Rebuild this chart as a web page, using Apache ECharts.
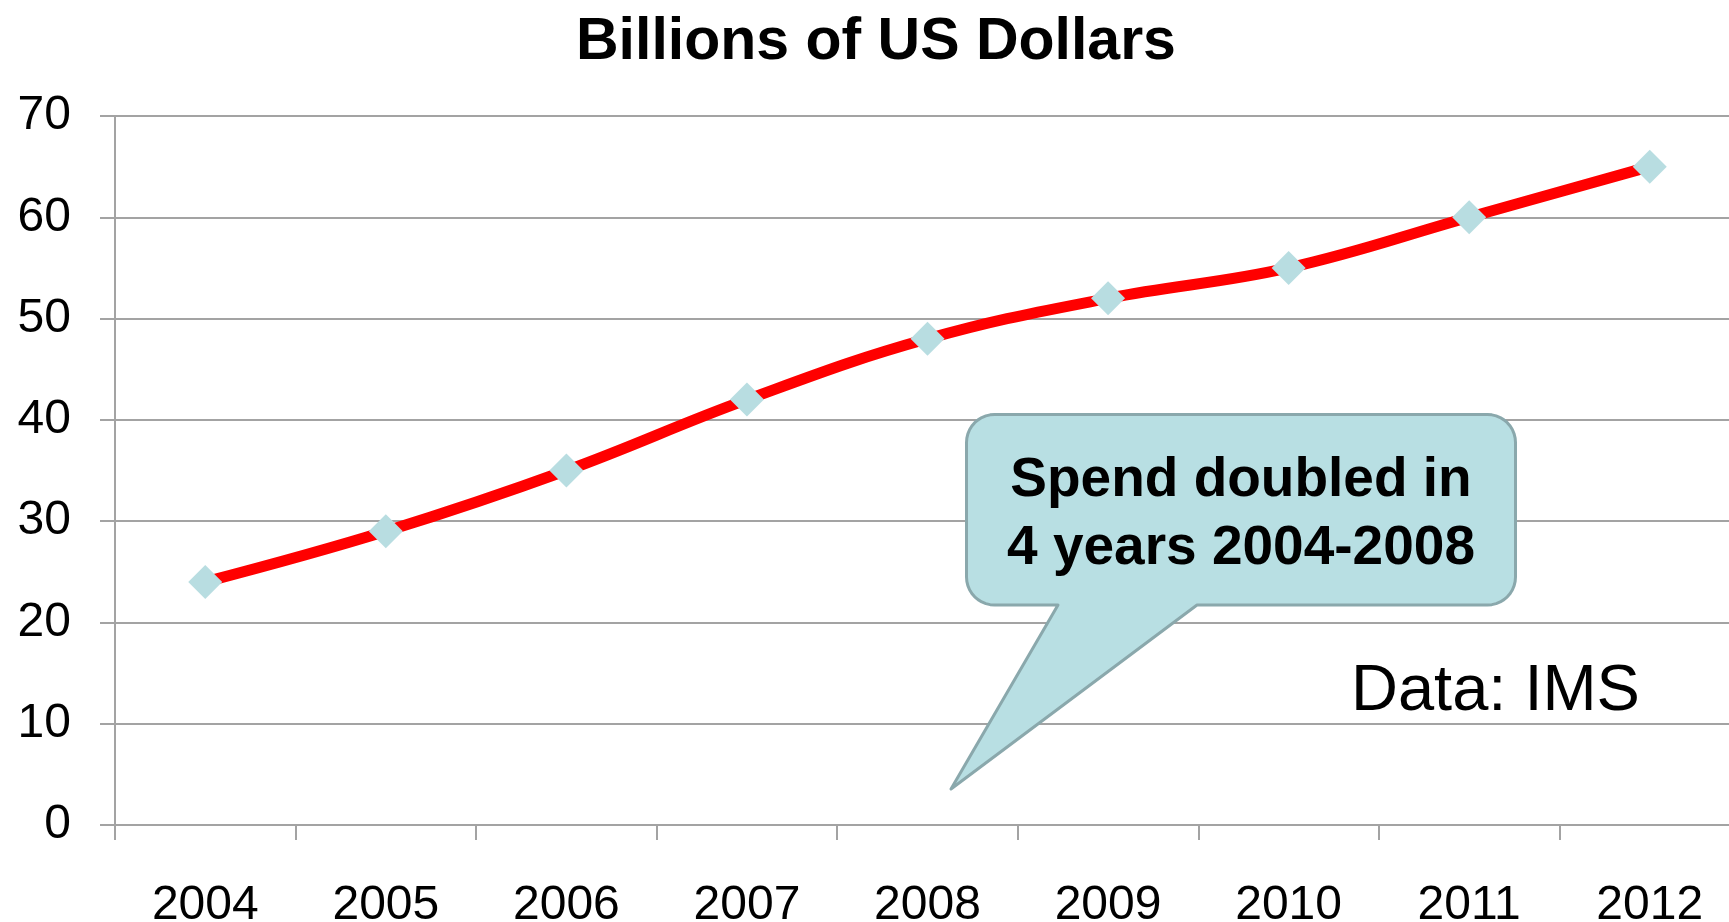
<!DOCTYPE html>
<html>
<head>
<meta charset="utf-8">
<title>Billions of US Dollars</title>
<script src="https://cdn.jsdelivr.net/npm/echarts@6/dist/echarts.min.js"></script>
<style>
  html, body { margin: 0; padding: 0; background: #ffffff; }
  #chart { width: 1729px; height: 922px; }
</style>
</head>
<body>
<div id="chart"></div>
<script>
// Yearly spend, billions of US dollars
const years = ['2004', '2005', '2006', '2007', '2008', '2009', '2010', '2011', '2012'];
const spend = [24, 29, 35, 42, 48, 52, 55, 60, 65];
const yTicks = [0, 10, 20, 30, 40, 50, 60, 70];

const titleText = 'Billions of US Dollars';
const calloutLines = ['Spend doubled in', '4 years 2004-2008'];
const sourceText = 'Data: IMS';

const FONT = '"Liberation Sans", Arial, Helvetica, sans-serif';
const GRID_GREY = '#a3a3a3';

// Outline of a rounded speech bubble whose tail leaves the bottom edge
function bubbleOutline(left, top, right, bottom, r, tailL, tailR, tip) {
  const pts = [];
  function arc(cx, cy, a0, a1) {
    const n = 10;
    for (let i = 0; i <= n; i++) {
      const a = a0 + (a1 - a0) * i / n;
      pts.push([cx + r * Math.cos(a), cy + r * Math.sin(a)]);
    }
  }
  arc(left + r, top + r, Math.PI, Math.PI * 1.5);        // top-left
  arc(right - r, top + r, Math.PI * 1.5, Math.PI * 2);   // top-right
  arc(right - r, bottom - r, 0, Math.PI * 0.5);          // bottom-right
  pts.push([tailR, bottom], tip, [tailL, bottom]);
  arc(left + r, bottom - r, Math.PI * 0.5, Math.PI);     // bottom-left
  return pts;
}

const chart = echarts.init(document.getElementById('chart'), null, { renderer: 'canvas' });

chart.setOption({
  backgroundColor: '#ffffff',
  animation: false,
  title: {
    text: titleText,
    left: 576,
    top: 13,
    padding: 0,
    textStyle: { fontFamily: FONT, fontSize: 59, fontWeight: 'bold', color: '#000000' }
  },
  // the plot runs slightly past the right edge of the canvas
  grid: { left: 115, top: 116, width: 1625, height: 709, containLabel: false, outerBoundsMode: 'none' },
  xAxis: {
    type: 'category',
    data: years,
    boundaryGap: true,
    axisLine: { show: true, lineStyle: { color: GRID_GREY, width: 2 } },
    axisTick: { show: true, length: 15, interval: 0, lineStyle: { color: GRID_GREY, width: 2 } },
    axisLabel: { interval: 0, margin: 57, fontFamily: FONT, fontSize: 48, color: '#000000' },
    splitLine: { show: false }
  },
  yAxis: {
    type: 'value',
    min: yTicks[0],
    max: yTicks[yTicks.length - 1],
    interval: yTicks[1] - yTicks[0],
    axisLine: { show: true, lineStyle: { color: GRID_GREY, width: 2 } },
    axisTick: { show: true, length: 15, lineStyle: { color: GRID_GREY, width: 2 } },
    axisLabel: { margin: 44, padding: [8, 0, 0, 0], fontFamily: FONT, fontSize: 48, color: '#000000' },
    splitLine: { show: true, lineStyle: { color: GRID_GREY, width: 2 } }
  },
  series: [{
    type: 'line',
    data: spend,
    smooth: 0.4,
    showAllSymbol: true,
    symbol: 'diamond',
    symbolSize: 34,
    lineStyle: { color: '#ff0000', width: 11 },
    itemStyle: { color: '#b8dde1', borderWidth: 0 },
    z: 3
  }],
  graphic: [
    {
      type: 'polygon',
      z: 10,
      shape: { points: bubbleOutline(966.5, 414.5, 1515.5, 605, 28, 1058, 1197, [951, 789]) },
      style: { fill: '#b8dfe3', stroke: '#8aa8ac', lineWidth: 3, lineJoin: 'round' }
    },
    {
      type: 'text',
      z: 11,
      x: 1241,
      y: 515,
      style: {
        text: calloutLines.join('\n'),
        font: 'bold 55px ' + FONT,
        fill: '#000000',
        align: 'center',
        verticalAlign: 'middle',
        lineHeight: 68
      }
    },
    {
      type: 'text',
      z: 11,
      x: 1351,
      y: 692,
      style: {
        text: sourceText,
        font: '65px ' + FONT,
        fill: '#000000',
        align: 'left',
        verticalAlign: 'middle'
      }
    }
  ]
});
</script>
</body>
</html>
